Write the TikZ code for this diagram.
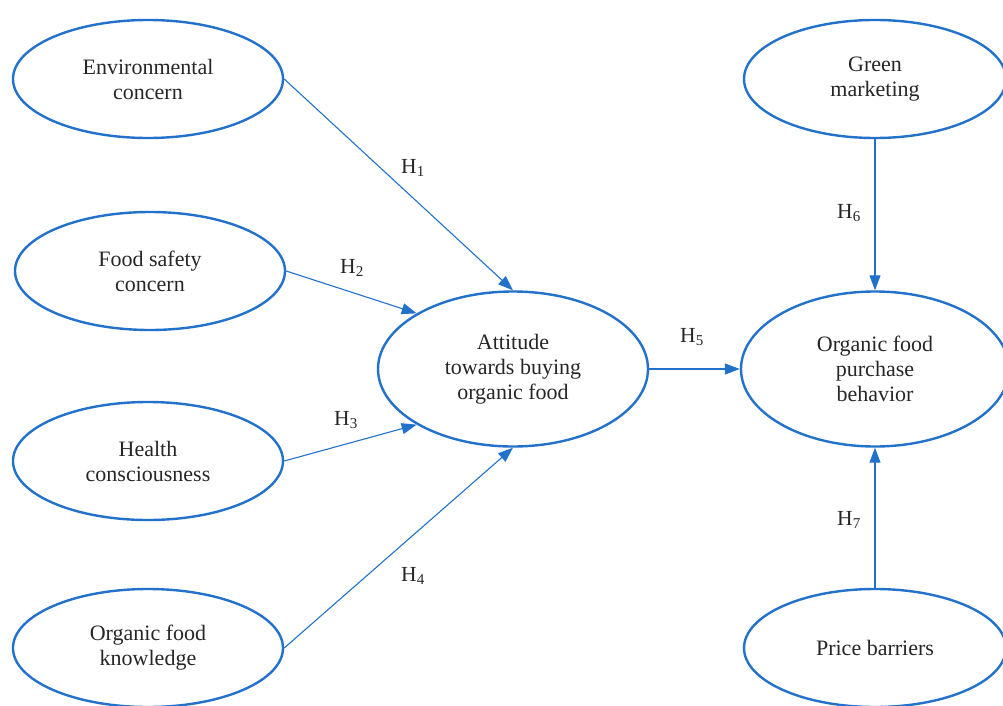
\documentclass[tikz,border=0pt]{standalone}
\usepackage{fontspec}
\setmainfont{Liberation Serif}
\usetikzlibrary{shapes.geometric,arrows.meta}
\definecolor{lineblue}{RGB}{34,114,204}
\tikzset{
  construct/.style={draw=lineblue, line width=2.4pt, ellipse, inner sep=0pt,
    minimum width=270pt, minimum height=118pt, align=center,
    font=\fontsize{22}{25}\selectfont, text=black!85},
  path/.style={draw=lineblue, line width=1.1pt, -{Triangle[length=15pt,width=11pt]}},
  hyp/.style={font=\fontsize{21.5}{24}\selectfont, text=black!85}
}
\begin{document}
\begin{tikzpicture}[x=1pt,y=-1pt]
\useasboundingbox (0,0) rectangle (1003,706);
\node[construct] (env) at (148,79) {Environmental\\concern};
\node[construct] (food) at (150,271) {Food safety\\concern};
\node[construct] (health) at (148,461) {Health\\consciousness};
\node[construct] (know) at (148,648) {Organic food\\knowledge};
\node[construct, minimum width=270pt, minimum height=155pt] (att) at (513,369) {Attitude\\towards buying\\organic food};
\node[construct, minimum width=262pt] (green) at (875,79) {Green\\marketing};
\node[construct, minimum width=268pt, minimum height=155pt] (ofpb) at (875,369) {Organic food\\purchase\\behavior};
\node[construct, minimum width=262pt] (price) at (875,648) {Price barriers};
\draw[path] (env.east) -- (att.north);
\draw[path] (food.east) -- (att.150);
\draw[path] (health.east) -- (att.210);
\draw[path] (know.east) -- (att.south);
\draw[path] (att.east) -- (ofpb.west);
\draw[path] (green.south) -- (ofpb.north);
\draw[path] (price.north) -- (ofpb.south);
\node[hyp] (h1) at (413,168) {H\textsubscript{1}};
\node[hyp] (h2) at (352,268) {H\textsubscript{2}};
\node[hyp] (h3) at (346,420) {H\textsubscript{3}};
\node[hyp] (h4) at (413,576) {H\textsubscript{4}};
\node[hyp] (h5) at (692,337) {H\textsubscript{5}};
\node[hyp] (h6) at (849,213) {H\textsubscript{6}};
\node[hyp] (h7) at (849,520) {H\textsubscript{7}};
\end{tikzpicture}
\end{document}
